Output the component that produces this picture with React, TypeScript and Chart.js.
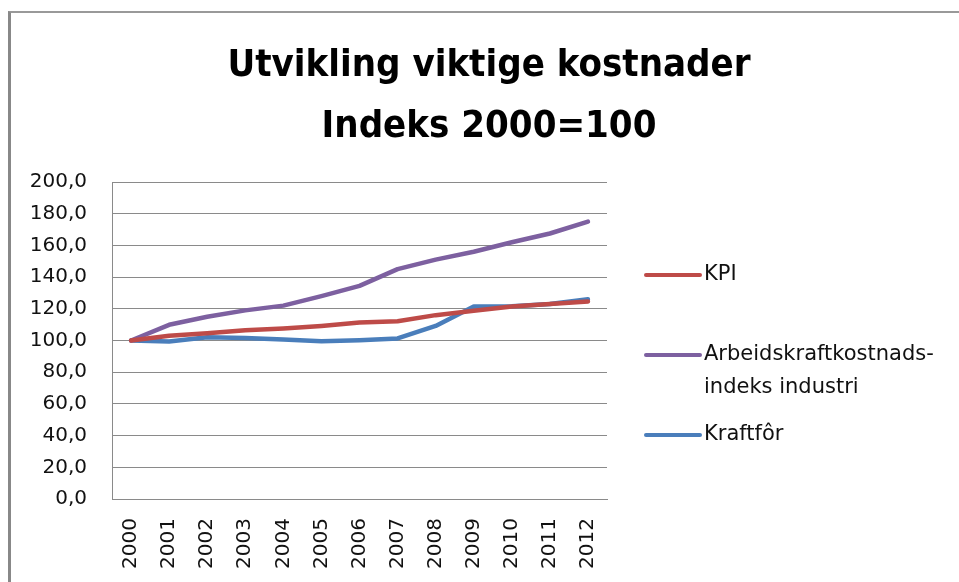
import React, { useEffect, useRef } from "react";
import { Chart, registerables } from "chart.js";

Chart.register(...registerables);

const years = ["2000", "2001", "2002", "2003", "2004", "2005", "2006", "2007", "2008", "2009", "2010", "2011", "2012"];
const kpi = [100, 103, 104.6, 106.5, 107.6, 109.2, 111.3, 112.2, 116, 118.7, 121.4, 123, 124.6];
const arbeid = [100, 109.9, 115, 119, 122, 128, 134.5, 145, 151, 156, 162, 167.5, 175];
const kraftfor = [100, 99.4, 102, 101.6, 100.6, 99.6, 100.2, 101.3, 109.2, 121.4, 121.6, 123, 126];
const seriesLabels = [["KPI"], ["Arbeidskraftkostnads-", "indeks industri"], ["Kraftfôr"]];
const seriesColors = ["#BE4B48", "#7D60A0", "#4A7EBB"];
const titleLines = ["Utvikling viktige kostnader", "Indeks 2000=100"];

const titlePlugin = {
  id: "customTitle",
  afterDraw(chart: any) {
    const ctx = chart.ctx;
    ctx.save();
    ctx.fillStyle = "#000";
    ctx.font = "bold 38px 'DejaVu Sans Condensed', 'Liberation Sans Narrow', sans-serif";
    ctx.textAlign = "center";
    ctx.textBaseline = "alphabetic";
    ctx.fillText(titleLines[0], 489, 76);
    ctx.fillText(titleLines[1], 489, 137);
    ctx.restore();
  },
};

const legendPlugin = {
  id: "customLegend",
  afterDraw(chart: any) {
    const ctx = chart.ctx;
    ctx.save();
    ctx.font = "21px 'DejaVu Sans', sans-serif";
    ctx.textBaseline = "middle";
    ctx.textAlign = "left";
    chart.data.datasets.forEach((ds: any, i: number) => {
      const y = 275 + i * 80;
      ctx.strokeStyle = ds.borderColor;
      ctx.lineWidth = 4;
      ctx.lineCap = "round";
      ctx.beginPath();
      ctx.moveTo(646, y);
      ctx.lineTo(700, y);
      ctx.stroke();
      ctx.fillStyle = "#111";
      const lines = seriesLabels[i];
      lines.forEach((t, j) => ctx.fillText(t, 704, y + j * 33));
    });
    ctx.restore();
  },
};

export default function App() {
  const ref = useRef<HTMLCanvasElement | null>(null);
  useEffect(() => {
    if (!ref.current) return;
    const data = [kpi, arbeid, kraftfor];
    const chart = new Chart(ref.current, {
      type: "line",
      data: {
        labels: years,
        datasets: data.map((d, i) => ({
          label: seriesLabels[i].join(" "),
          data: d,
          borderColor: seriesColors[i],
          backgroundColor: seriesColors[i],
          borderWidth: 4.5,
          pointRadius: 0,
          tension: 0,
          borderCapStyle: "round" as const,
          borderJoinStyle: "round" as const,
        })),
      },
      options: {
        responsive: false,
        animation: false,
        layout: { padding: { left: 19, top: 182, right: 352, bottom: 0 } },
        plugins: {
          legend: { display: false },
          title: { display: false },
          tooltip: { enabled: false },
        },
        scales: {
          x: {
            offset: true,
            grid: { display: true, drawOnChartArea: false, drawTicks: false },
            border: { display: true, color: "#8a8a8a", width: 1 },
            ticks: {
              maxRotation: 90,
              minRotation: 90,
              autoSkip: false,
              padding: 19,
              color: "#111",
              font: { family: "'DejaVu Sans', sans-serif", size: 20 },
            },
            afterFit: (s: any) => {
              s.height = 83;
            },
          },
          y: {
            min: 0,
            max: 200,
            ticks: {
              stepSize: 20,
              padding: 25,
              color: "#111",
              font: { family: "'DejaVu Sans', sans-serif", size: 20 },
              callback: (v: any) => Number(v).toFixed(1).replace(".", ","),
            },
            grid: { color: "#8a8a8a", lineWidth: 1, drawTicks: false },
            border: { display: true, color: "#8a8a8a", width: 1 },
            afterFit: (s: any) => {
              s.width = 93;
            },
          },
        },
      },
      plugins: [titlePlugin, legendPlugin],
    });
    return () => chart.destroy();
  }, []);
  return (
    <>
      <div
        style={{
          position: "fixed",
          left: 8,
          top: 11,
          width: 1100,
          height: 700,
          borderLeft: "3px solid #888",
          borderTop: "2px solid #999",
          background: "#fff",
        }}
      />
      <canvas
        ref={ref}
        width={959}
        height={582}
        style={{ position: "fixed", left: 0, top: 0, width: 959, height: 582 }}
      />
    </>
  );
}
